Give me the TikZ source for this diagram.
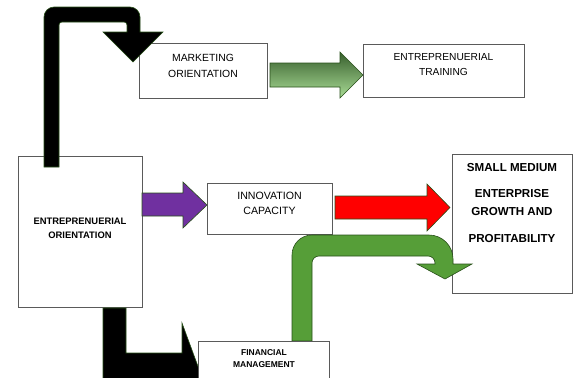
\documentclass[tikz,border=0pt]{standalone}
\usepackage{fontspec}
\setmainfont{Liberation Sans}
\definecolor{boxgray}{RGB}{90,90,90}
\definecolor{arrowline}{RGB}{40,80,25}
\definecolor{purpleA}{RGB}{112,48,160}
\definecolor{redA}{RGB}{255,0,0}
\definecolor{greenA}{RGB}{86,158,56}
\definecolor{gdark}{RGB}{55,95,45}
\definecolor{glight}{RGB}{170,220,150}
\begin{document}
\begin{tikzpicture}[x=1pt,y=-1pt,
  box/.style={draw=boxgray, line width=0.9pt, fill=white, inner sep=0pt},
  reg/.style={font=\fontsize{10.4}{15.5}\selectfont, align=center, inner sep=0pt},
  blockarrow/.style={draw=arrowline, line width=0.6pt, line join=miter}]
\useasboundingbox (0,0) rectangle (574,378);

% boxes
\node[box, minimum width=124pt, minimum height=151pt] (eo) at (80,231.5) {};
\node[box, minimum width=128pt, minimum height=55pt] (mo) at (203,70.5) {};
\node[box, minimum width=161pt, minimum height=53pt] (et) at (443.5,70.5) {};
\node[box, minimum width=125pt, minimum height=51pt] (ic) at (269.5,208.5) {};
\node[box, minimum width=120pt, minimum height=139pt] (sme) at (512,223.5) {};

% texts
\node[reg, font=\fontsize{10.4}{16}\selectfont] (mot) at (203,65.5) {MARKETING\\ORIENTATION};
\node[reg, font=\fontsize{10.2}{15}\selectfont] (ett) at (443.5,65) {ENTREPRENUERIAL\\TRAINING};
\node[reg, font=\bfseries\fontsize{9.4}{14}\selectfont] (eot) at (80,228.5) {ENTREPRENUERIAL\\ORIENTATION};
\node[reg, font=\fontsize{10.6}{15}\selectfont] (ict) at (269.5,203) {INNOVATION\\CAPACITY};
\node[reg, font=\bfseries\fontsize{11.6}{18}\selectfont] (smet) at (512,203) {SMALL MEDIUM\\[8pt]ENTERPRISE\\GROWTH AND\\[9pt]PROFITABILITY};

% black arrow EO -> MO
\path[blockarrow, fill=black]
  (44,167) [rounded corners=10pt] -- (44,7) -- (140,7) [sharp corners] -- (140,32)
  -- (163,32) -- (133,62) -- (103,32) -- (127,32)
  [rounded corners=3pt] -- (127,22) -- (59,22) [sharp corners] -- (59,167) -- cycle;

% gradient green arrow MO -> ET
\path[blockarrow, top color=gdark, bottom color=glight]
  (270,63) -- (340,63) -- (340,52) -- (363,75) -- (340,98) -- (340,87) -- (270,87) -- cycle;

% purple arrow EO -> IC
\path[blockarrow, fill=purpleA]
  (142,193) -- (183,193) -- (183,182) -- (207,205) -- (183,228) -- (183,216) -- (142,216) -- cycle;

% red arrow IC -> SME
\path[blockarrow, fill=redA]
  (335,196) -- (427,196) -- (427,184) -- (450,207.5) -- (427,231) -- (427,219) -- (335,219) -- cycle;

% black arrow EO -> FM
\path[blockarrow, fill=black]
  (103,308) -- (103,400) -- (182,400) -- (182,437) -- (203,380) -- (182,323)
  -- (182,353) -- (126,353) -- (126,308) -- cycle;

% green curved arrow FM -> SME
\path[blockarrow, fill=greenA]
  (292,341) [rounded corners=20pt] -- (292,235) [rounded corners=24pt] -- (453,235) [sharp corners] -- (453,264)
  -- (472,264) -- (445,279) -- (417,264) -- (435,264)
  [rounded corners=7pt] -- (435,256) -- (312,256) [sharp corners] -- (312,341) -- cycle;

% FM box on top
\node[box, minimum width=131pt, minimum height=60pt] (fm) at (263.5,371) {};
\node[reg, font=\bfseries\fontsize{8.5}{12}\selectfont] (fmt) at (264,358.5) {FINANCIAL\\MANAGEMENT};
\end{tikzpicture}
\end{document}
